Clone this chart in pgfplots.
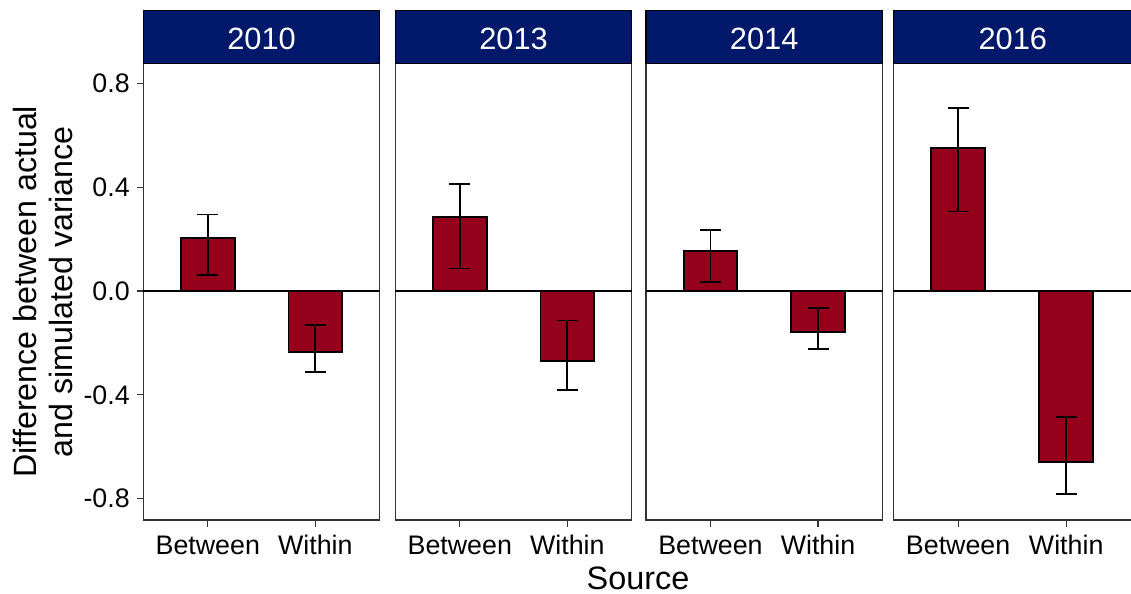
\documentclass[border=0pt]{standalone}
\usepackage{fontspec}
\setmainfont{Liberation Sans}
\usepackage{pgfplots}
\usepackage{pgfplotstable}
\pgfplotsset{compat=1.18}

\definecolor{barred}{HTML}{95001B}
\definecolor{stripnavy}{HTML}{01186B}
\definecolor{framegray}{HTML}{333333}

% x: 1 = Between, 2 = Within; ep/em = upper/lower error
\pgfplotstableread{
x y ep em
1 0.203 0.092 0.141
2 -0.236 0.104 0.076
}\dataA
\pgfplotstableread{
x y ep em
1 0.286 0.125 0.199
2 -0.270 0.156 0.110
}\dataB
\pgfplotstableread{
x y ep em
1 0.154 0.080 0.118
2 -0.157 0.090 0.067
}\dataC
\pgfplotstableread{
x y ep em
1 0.550 0.154 0.244
2 -0.658 0.171 0.124
}\dataD

\pgfplotsset{
  facet/.style={
    scale only axis,
    width=118.25pt, height=228.35pt,
    anchor=south west,
    xmin=0.4, xmax=2.6,
    ymin=-0.8825, ymax=0.8775,
    clip=false,
    axis line style={framegray, line width=0.6pt},
    tick style={framegray, line width=0.6pt},
    tick align=outside,
    major tick length=3.3pt,
    xtick={1,2}, xticklabels={Between,Within},
    xtick pos=lower, ytick pos=left,
    tick label style={font=\fontsize{13.4}{16}\selectfont, black},
    xticklabel style={inner sep=0pt, text height=9.8pt, text depth=0pt, yshift=-3.9pt},
    yticklabel style={inner sep=0pt, xshift=-3.3pt},
    ytick=\empty,
  },
  bars/.style={
    ybar, bar width=0.5,
    fill=barred, draw=black, line width=0.9pt,
    error bars/.cd,
      y dir=both, y explicit,
      error bar style={black, line width=0.9pt},
      error mark=-,
      error mark options={black, line width=0.9pt, mark size=5.25pt, rotate=90},
  },
}

\newcommand{\strip}[1]{%
  \draw[fill=stripnavy, draw=black, line width=0.6pt]
    (rel axis cs:0,1) rectangle ([yshift=26.3pt]rel axis cs:1,1);
  \node[anchor=base, text=white, font=\fontsize{15.4}{18}\selectfont, inner sep=0pt]
    at ([yshift=6.65pt]rel axis cs:0.5,1) {#1};%
}

\begin{document}
\begin{tikzpicture}
\useasboundingbox (0,0) rectangle (565.5pt,297pt);

% 2010
\begin{axis}[facet, at={(71.65pt,37pt)},
  ytick={-0.8,-0.4,0,0.4,0.8},
  yticklabels={-0.8,-0.4,0.0,0.4,0.8}]
  \draw[black, line width=0.6pt] (axis cs:0.4,0) -- (axis cs:2.6,0);
  \addplot[bars] table[x=x, y=y, y error plus=ep, y error minus=em] {\dataA};
  \strip{2010}
\end{axis}

% 2013
\begin{axis}[facet, at={(197.65pt,37pt)}]
  \draw[black, line width=0.6pt] (axis cs:0.4,0) -- (axis cs:2.6,0);
  \addplot[bars] table[x=x, y=y, y error plus=ep, y error minus=em] {\dataB};
  \strip{2013}
\end{axis}

% 2014
\begin{axis}[facet, at={(323pt,37pt)}]
  \draw[black, line width=0.6pt] (axis cs:0.4,0) -- (axis cs:2.6,0);
  \addplot[bars] table[x=x, y=y, y error plus=ep, y error minus=em] {\dataC};
  \strip{2014}
\end{axis}

% 2016
\begin{axis}[facet, at={(446.65pt,37pt)}, width=119.5pt, xmax=2.6116]
  \draw[black, line width=0.6pt] (axis cs:0.4,0) -- (axis cs:2.6116,0);
  \addplot[bars] table[x=x, y=y, y error plus=ep, y error minus=em] {\dataD};
  \strip{2016}
\end{axis}

% axis titles
\node[rotate=90, anchor=base, font=\fontsize{16.1}{19}\selectfont]
  at (18pt,151.15pt) {Difference between actual};
\node[rotate=90, anchor=base, font=\fontsize{16.1}{19}\selectfont]
  at (36pt,151.15pt) {and simulated variance};
\node[anchor=base, font=\fontsize{16.2}{19}\selectfont]
  at (319pt,2pt) {Source};
\end{tikzpicture}
\end{document}
